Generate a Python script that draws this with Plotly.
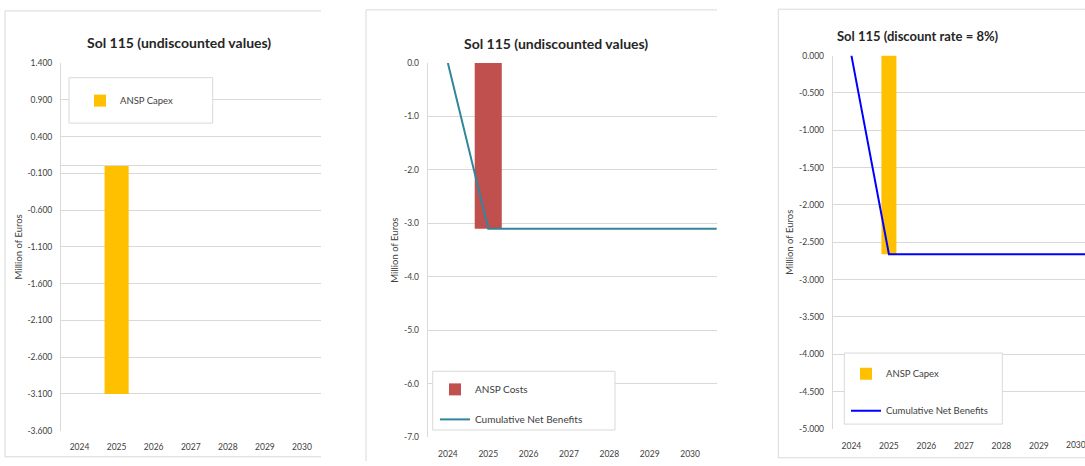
import plotly.graph_objects as go

W, H = 1085, 466
FONT = "Lato, Carlito, Calibri, sans-serif"
GRID = "#D9D9D9"
TICK = "#404040"

# ---- data -------------------------------------------------------------
years = [2024, 2025, 2026, 2027, 2028, 2029, 2030]
years_line = [2024, 2025, 2026, 2027, 2028, 2029, 2030, 2031]

capex_undiscounted = [0, -3.1, 0, 0, 0, 0, 0]
costs_undiscounted = [0, -3.1, 0, 0, 0, 0, 0]
cum_net_undiscounted = [0, -3.1, -3.1, -3.1, -3.1, -3.1, -3.1, -3.1]

capex_discounted = [0, -2.66, 0, 0, 0, 0, 0]
cum_net_discounted = [0, -2.66, -2.66, -2.66, -2.66, -2.66, -2.66, -2.66]

yticks_1 = [1.4, 0.9, 0.4, -0.1, -0.6, -1.1, -1.6, -2.1, -2.6, -3.1, -3.6]
yticks_2 = [0.0, -1.0, -2.0, -3.0, -4.0, -5.0, -6.0, -7.0]
yticks_3 = [0.0, -0.5, -1.0, -1.5, -2.0, -2.5, -3.0, -3.5, -4.0, -4.5, -5.0]

titles = ["Sol 115 (undiscounted values)",
          "Sol 115 (undiscounted values)",
          "Sol 115 (discount rate = 8%)"]


def fx(v):
    return v / W


def fy(v):
    return 1 - v / H


fig = go.Figure()

# Panel 1: capex bar only
fig.add_trace(go.Bar(x=years, y=capex_undiscounted, name="ANSP Capex",
                     marker=dict(color="#FFC000", line=dict(width=0)),
                     width=0.65, xaxis="x", yaxis="y", legend="legend",
                     showlegend=True))

# Panel 2: costs bar + cumulative line
fig.add_trace(go.Bar(x=years, y=costs_undiscounted, name="ANSP Costs",
                     marker=dict(color="#C0504D", line=dict(width=0)),
                     width=0.67, xaxis="x2", yaxis="y2", legend="legend2",
                     legendgroup="a", showlegend=True))
fig.add_trace(go.Scatter(x=years_line, y=cum_net_undiscounted, mode="lines",
                         name="Cumulative Net Benefits",
                         line=dict(color="#31859C", width=2),
                         xaxis="x2", yaxis="y2", legend="legend2",
                         legendgroup="b", showlegend=True))

# Panel 3: discounted capex bar + cumulative line
fig.add_trace(go.Bar(x=years, y=capex_discounted, name="ANSP Capex",
                     marker=dict(color="#FFC000", line=dict(width=0)),
                     width=0.4, xaxis="x3", yaxis="y3", legend="legend3",
                     legendgroup="a", showlegend=True))
fig.add_trace(go.Scatter(x=years_line, y=cum_net_discounted, mode="lines",
                         name="Cumulative Net Benefits",
                         line=dict(color="#0000FF", width=2),
                         xaxis="x3", yaxis="y3", legend="legend3",
                         legendgroup="b", showlegend=True))


def xaxis(dom, rng, anchor, standoff, ticks_years, size=8.5):
    return dict(domain=[fx(dom[0]), fx(dom[1])], range=rng, anchor=anchor,
                tickvals=ticks_years, ticktext=[str(y) for y in ticks_years],
                showgrid=False, zeroline=False, showline=False, ticks="",
                ticklabelstandoff=standoff, ticklabeloverflow="allow",
                tickfont=dict(family=FONT, size=size, color=TICK),
                fixedrange=True)


def yaxis(dom, rng, anchor, vals, fmt, zeroline=False, size=8.5):
    return dict(domain=[fy(dom[1]), fy(dom[0])], range=rng, anchor=anchor,
                tickvals=vals, ticktext=[format(v, fmt) for v in vals],
                showgrid=True, gridcolor=GRID, gridwidth=1,
                zeroline=zeroline, zerolinecolor=GRID, zerolinewidth=1,
                showline=True, linecolor=GRID, linewidth=1, ticks="",
                ticklabelstandoff=6,
                tickfont=dict(family=FONT, size=size, color=TICK),
                title=dict(text="Million of Euros", standoff=3,
                           font=dict(family=FONT, size=9.5, color=TICK)),
                fixedrange=True)


layout = dict(
    width=W, height=H, autosize=False,
    margin=dict(l=0, r=0, t=0, b=0),
    paper_bgcolor="white", plot_bgcolor="white",
    font=dict(family=FONT, color=TICK),
    barmode="overlay", showlegend=True,
    xaxis=xaxis((61, 320.5), [2023.5, 2030.5], "y", 10, years),
    yaxis=yaxis((59.3, 435), [-3.6, 1.4], "x", yticks_1, ".3f", zeroline=True),
    xaxis2=xaxis((427.7, 716.7), [2023.5, 2030.66], "y2", 10, years),
    yaxis2=yaxis((59.3, 441.7), [-7, 0], "x2", yticks_2, ".1f"),
    # the last year label sits on the page edge; it is added as text below
    xaxis3=xaxis((832.7, 1085), [2023.5, 2030.23], "y3", 10, years[:-1]),
    yaxis3=yaxis((51.7, 433.3), [-5, 0], "x3", yticks_3, ".3f"),
    legend=dict(x=fx(80), y=fy(97.7), xanchor="left", yanchor="middle",
                bgcolor="rgba(0,0,0,0)", borderwidth=0,
                font=dict(family=FONT, size=9.5, color=TICK)),
    legend2=dict(x=fx(435), y=fy(378), xanchor="left", yanchor="top",
                 bgcolor="rgba(0,0,0,0)", borderwidth=0,
                 traceorder="grouped", tracegroupgap=11,
                 font=dict(family=FONT, size=10, color=TICK)),
    legend3=dict(x=fx(846), y=fy(362), xanchor="left", yanchor="top",
                 bgcolor="rgba(0,0,0,0)", borderwidth=0,
                 traceorder="grouped", tracegroupgap=18,
                 font=dict(family=FONT, size=9.5, color=TICK)),
)
fig.update_layout(**layout)

# year label at the right page edge of the third chart
fig.add_annotation(x=years[-1], xref="x3", y=fy(444), yref="paper",
                   text=str(years[-1]), showarrow=False,
                   xanchor="center", yanchor="top", borderpad=0,
                   font=dict(family=FONT, size=8.5, color=TICK))

# chart titles
title_pos = [(179, 38.5, 14), (555.7, 39.5, 14), (918.3, 32, 13)]
for text, (cx, cy, sz) in zip(titles, title_pos):
    fig.add_annotation(x=fx(cx), y=fy(cy), xref="paper", yref="paper",
                       text=f"<b>{text}</b>", showarrow=False,
                       xanchor="center", yanchor="middle",
                       font=dict(family=FONT, size=sz, color="#262626"))

shapes = []
# panel frames (right side of each chart is cut by the page edge)
frame_segments = [
    (5, 6, 5, 461.7), (5, 6, 321, 6), (5, 461.7, 321, 461.7),
    (366, 5, 366, 466), (366, 5, 717, 5),
    (778.3, 4.3, 778.3, 462.7), (778.3, 4.3, 1085, 4.3),
    (778.3, 462.7, 1085, 462.7),
]
for x0, y0, x1, y1 in frame_segments:
    shapes.append(dict(type="line", xref="paper", yref="paper",
                       x0=fx(x0), y0=fy(y0), x1=fx(x1), y1=fy(y1),
                       line=dict(color=GRID, width=1), layer="below"))
# legend boxes
for x0, y0, x1, y1 in [(69, 74.3, 212.7, 120.7), (432.7, 374.3, 615, 434.3),
                       (844.3, 355.7, 1002.3, 428.3)]:
    shapes.append(dict(type="rect", xref="paper", yref="paper",
                       x0=fx(x0), y0=fy(y1), x1=fx(x1), y1=fy(y0),
                       line=dict(color=GRID, width=1), fillcolor="white",
                       layer="above"))
fig.update_layout(shapes=shapes)

fig.write_html("out.html")
